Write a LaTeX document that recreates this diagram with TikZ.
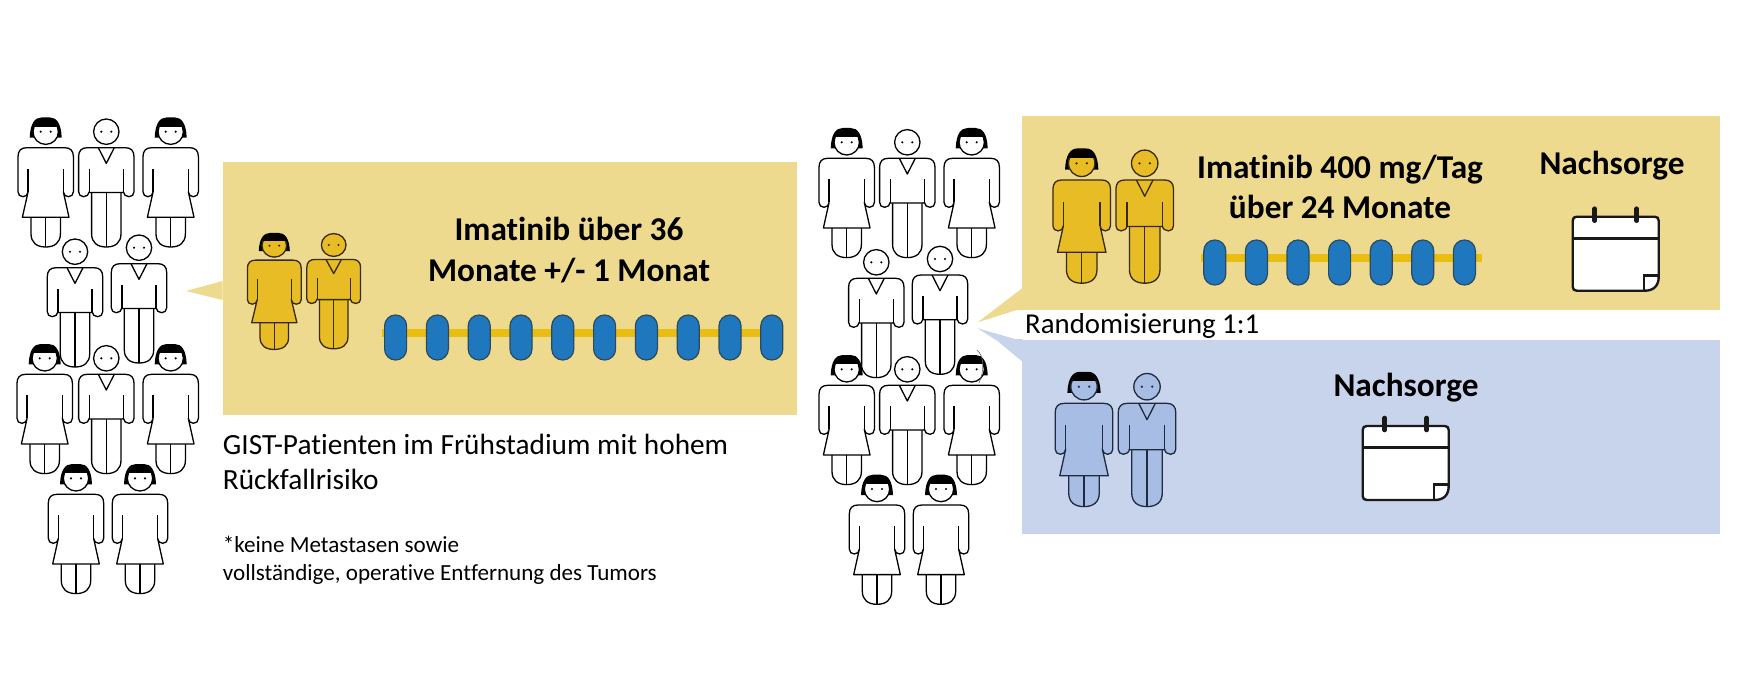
\documentclass[tikz,border=0pt]{standalone}
\usepackage{fontspec}
\setmainfont[Ligatures=NoCommon]{Carlito}
\usetikzlibrary{positioning}

\definecolor{boxyellow}{HTML}{EEDA8E}
\definecolor{boxblue}{HTML}{C8D4EC}
\definecolor{figyellow}{HTML}{E8BC24}
\definecolor{figblue}{HTML}{A7BDE3}
\definecolor{lineyellow}{HTML}{362A10}
\definecolor{lineblue}{HTML}{1E2A40}
\definecolor{pillblue}{HTML}{1F78BE}
\definecolor{pillline}{HTML}{E9BE10}
\definecolor{pilledge}{HTML}{2B4A60}

% Arme und Schultern, rechts unten beginnend
\newcommand{\figarms}[1]{(#1,60) .. controls (#1,63) and (20,65) .. (22.7,65) .. controls (25.7,65) and (27.7,63) .. (27.7,60) -- (27.7,25) .. controls (27.7,19) and (24.7,16) .. (19,16) -- (-19,16) .. controls (-24.7,16) and (-27.7,19) .. (-27.7,25) -- (-27.7,60) .. controls (-27.7,63) and (-25.7,65) .. (-22.7,65) .. controls (-20,65) and (-#1,63) .. (-#1,60)}
\newcommand{\figlegs}[1]{(-14.7,#1) -- (-14.7,102) .. controls (-14.7,111) and (-9,115.3) .. (0,115.3) .. controls (9,115.3) and (14.7,111) .. (14.7,102) -- (14.7,#1) -- cycle}

\tikzset{
  figure fill/.store in=\figfill, figure fill=white,
  figure line/.store in=\figline, figure line=black,
  plainfig/.style={figure fill=white, figure line=black},
  yellowfig/.style={figure fill=figyellow, figure line=lineyellow},
  bluefig/.style={figure fill=figblue, figure line=lineblue},
  woman/.pic={
    \begin{scope}[line width=1.3pt, draw=\figline, fill=\figfill, line join=round]
    \fill[black] (-16,6) .. controls (-15.5,-8) and (-11,-14.3) .. (-4,-14.3) -- (4,-14.3) .. controls (11,-14.3) and (15.5,-8) .. (16,6) -- cycle;
    \filldraw (0,0) circle (12.7);
    \begin{scope}
      \clip (-14,-14) rectangle (14,-5.6);
      \fill[black] (0,0) circle (13.4);
    \end{scope}
    \fill[\figline] (-5,0) circle (1.2) (5,0) circle (1.2);
    \filldraw \figlegs{80};
    \draw (0,85.6) -- (0,115.3);
    \filldraw \figarms{17.6} -- (-23.3,85.6) -- (23.3,85.6) -- cycle;
    \draw (-17.6,60) -- (-17.6,37) (17.6,60) -- (17.6,37);
    \end{scope}
  },
  man/.pic={
    \begin{scope}[line width=1.3pt, draw=\figline, fill=\figfill, line join=round]
    \filldraw (0,0) circle (12.7);
    \fill[\figline] (-5,0) circle (1.2) (5,0) circle (1.2);
    \filldraw \figlegs{55};
    \draw (0,60.7) -- (0,115.3);
    \filldraw \figarms{17} -- (-17,60.7) -- (17,60.7) -- cycle;
    \draw (-17,60) -- (-17,37) (17,60) -- (17,37);
    \draw (-8,16) -- (0,31.7) -- (8,16);
    \end{scope}
  },
  calendar/.pic={
    \begin{scope}[line width=2.4pt, draw=black!90]
    \filldraw[fill=white] (4,0) -- (82,0) .. controls (84.5,0) and (86,1.5) .. (86,4) -- (86,60) .. controls (86,69) and (81,74) .. (72,74) -- (4,74) .. controls (1.5,74) and (0,72.5) .. (0,70) -- (0,4) .. controls (0,1.5) and (1.5,0) .. (4,0) -- cycle;
    \draw (0,21.6) -- (86,21.6);
    \draw (71.3,74) -- (71.3,58.6) -- (86,58.6);
    \draw[line width=4.6pt, line cap=round] (22,-8) -- (22,4) (64,-8) -- (64,4);
    \end{scope}
  },
  pillen/.style={fill=pillblue, draw=pilledge, line width=1.2pt, rounded corners=10.9},
  bar/.style={fill=boxyellow, inner sep=0pt, anchor=north west},
  headline/.style={font=\fontsize{33.3}{40.5}\selectfont\bfseries, align=center, inner sep=0pt},
  plaintext/.style={align=left, inner sep=0pt, anchor=north west}
}

\begin{document}
\begin{tikzpicture}[x=1pt,y=-1pt]
\useasboundingbox (0,0) rectangle (1761,698);

% linke Gruppe
\foreach \px/\py in {45.7/131.7,170.7/131.7,44.7/358.3,170.7/358.3,76/478.3,140/478.3}
  \pic[plainfig] at (\px,\py) {woman};
\foreach \px/\py in {106.3/131.7,75/251.7,139/247.7,106.3/358.3}
  \pic[plainfig] at (\px,\py) {man};

% linker Kasten
\node (armLinks) [bar, minimum width=574.4pt, minimum height=253.3pt] at (222.3,161.7) {};
\coordinate (tipLinks) at (186,291);
\fill[boxyellow] (tipLinks) -- (222.5,281) -- (222.5,300) -- cycle;
\pic[yellowfig, xscale=.97, yscale=.9] at (274.3,245.7) {woman};
\pic[yellowfig, xscale=.97, yscale=.9] at (333.7,245) {man};
\fill[pillline] (381.7,329.3) rectangle (772,337.3);
\foreach \i in {0,...,9}
  \draw[pillen] ({395.6+41.8*\i-11},315) rectangle ({395.6+41.8*\i+11},360);
\node (titelLinks) [headline] at (569,250) {Imatinib über 36\\Monate +/- 1 Monat};
\node (textLinks) [plaintext, font=\fontsize{29.3}{35.4}\selectfont] at (222.7,433.6) {{\spaceskip=6.75pt\relax GIST-Patienten im Frühstadium mit hohem}\\Rückfallrisiko};
\node (notizLinks) [plaintext, font=\fontsize{23.1}{28}\selectfont] at (222.7,536.3) {*keine Metastasen sowie\\vollständige, operative Entfernung des Tumors};

% rechte Gruppe
\foreach \px/\py in {846.7/142.3,971.7/142.3,846.7/369.3,971.7/369.3,877/489,941/489}
  \pic[plainfig] at (\px,\py) {woman};
\foreach \px/\py in {907.3/142.3,876.3/262.3,940/259,907.3/369.3}
  \pic[plainfig] at (\px,\py) {man};
\draw[black!60, line width=.6pt] (976.7,350) .. controls (985,356) and (984,372) .. (979,383);

% oberer Kasten
\node (armImatinib) [bar, minimum width=698pt, minimum height=194pt] at (1022,116) {};
\coordinate (tipImatinib) at (977.7,322.3);
\fill[boxyellow] (tipImatinib) -- (1022.5,288) -- (1022.5,310) -- (1016.7,310) -- cycle;
\pic[yellowfig, scale=1.04] at (1081.7,163.3) {woman};
\pic[yellowfig, scale=1.04] at (1144.7,163.3) {man};
\fill[pillline] (1201,254) rectangle (1482,262);
\foreach \i in {0,...,6}
  \draw[pillen] ({1214.8+41.6*\i-11},240) rectangle ({1214.8+41.6*\i+11},285);
\node (titelImatinib) [headline] at (1340,187) {Imatinib 400 mg/Tag\\über 24 Monate};
\node (nachsorgeOben) [headline] at (1612,166) {Nachsorge};
\pic at (1572.7,216.7) {calendar};
\node (randomisierung) [inner sep=0pt, anchor=base west, font=\fontsize{28.8}{30}\selectfont] at (1025,333.7) {Randomisierung 1:1};

% unterer Kasten
\node (armNachsorge) [bar, fill=boxblue, minimum width=698pt, minimum height=194.7pt] at (1022,339.3) {};
\coordinate (tipNachsorge) at (977.7,328.3);
\fill[boxblue] (tipNachsorge) -- (1016.7,339.5) -- (995,339.5) -- cycle;
\fill[boxblue] (995,339) -- (1022.5,339) -- (1022.5,361.7) -- cycle;
\pic[bluefig, scale=1.04] at (1084,386.7) {woman};
\pic[bluefig, scale=1.04] at (1147,386.7) {man};
\node (nachsorgeUnten) [headline] at (1406,388) {Nachsorge};
\pic at (1362.7,426) {calendar};
\end{tikzpicture}
\end{document}
